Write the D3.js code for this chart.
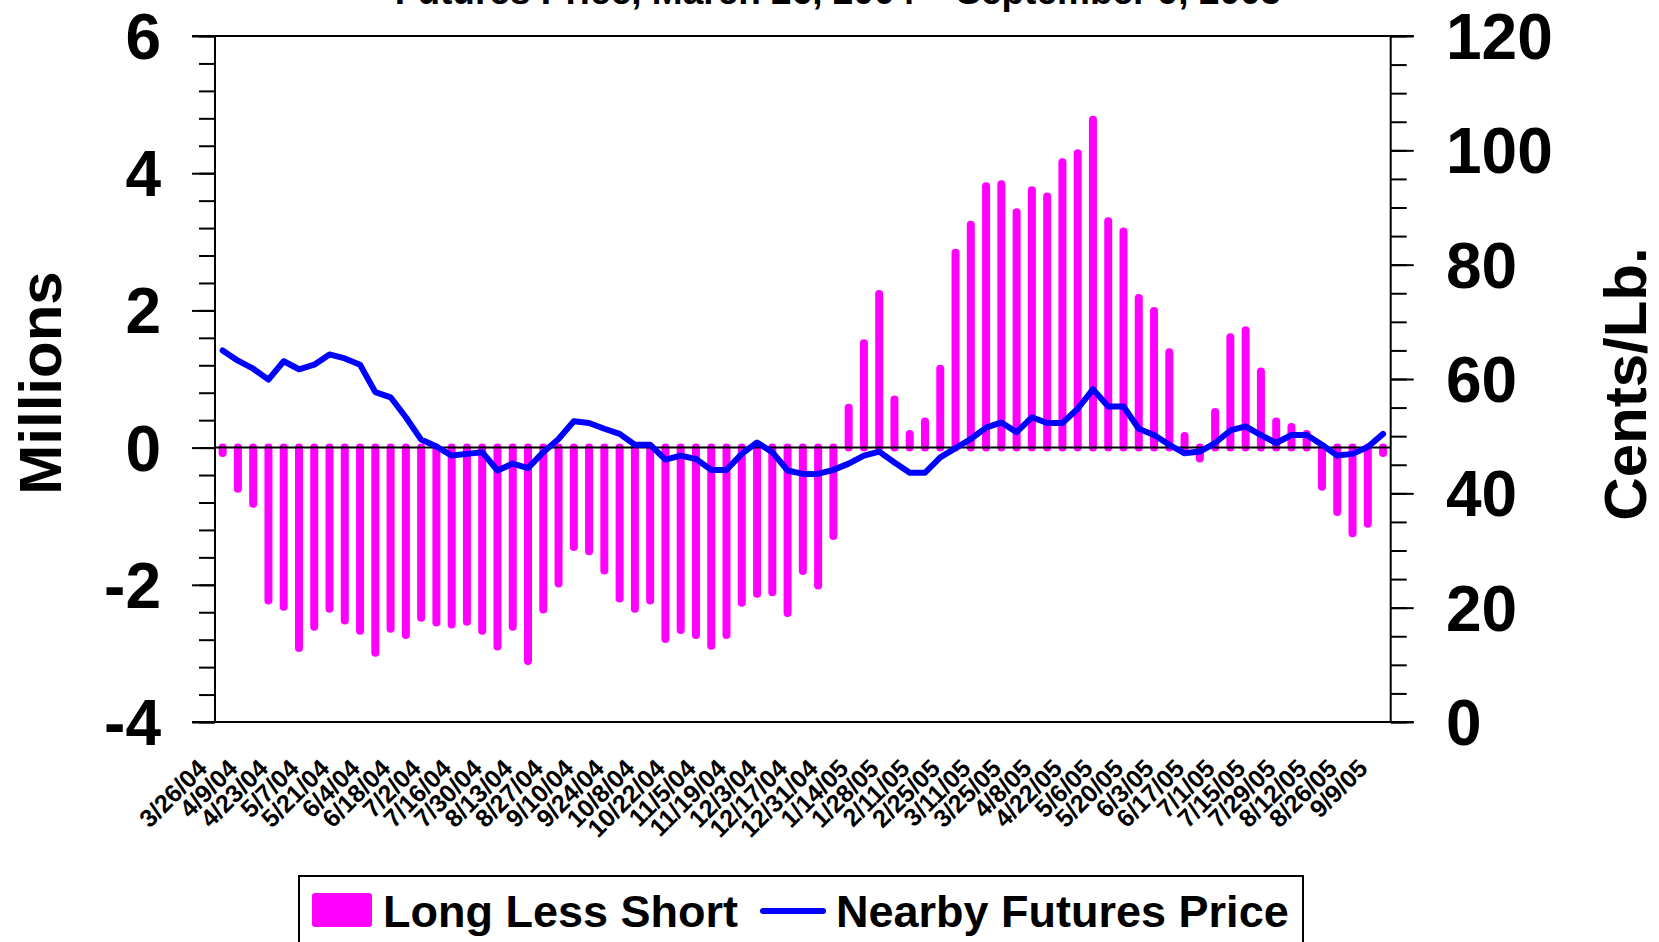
<!DOCTYPE html>
<html>
<head>
<meta charset="utf-8">
<script src="https://cdn.jsdelivr.net/npm/d3@7"></script>
<style>
	body { margin: 0; background: #fff; }
	text { font-family: Arial, "Liberation Sans", sans-serif; font-weight: bold; fill: #000; }
</style>
</head>
<body>
<div id="chartContainer"></div>
<script>

// weekly report dates
var dates = ["3/26/04","4/2/04","4/9/04","4/16/04","4/23/04","4/30/04","5/7/04","5/14/04","5/21/04","5/28/04",
	"6/4/04","6/11/04","6/18/04","6/25/04","7/2/04","7/9/04","7/16/04","7/23/04","7/30/04","8/6/04",
	"8/13/04","8/20/04","8/27/04","9/3/04","9/10/04","9/17/04","9/24/04","10/1/04","10/8/04","10/15/04",
	"10/22/04","10/29/04","11/5/04","11/12/04","11/19/04","11/26/04","12/3/04","12/10/04","12/17/04","12/24/04",
	"12/31/04","1/7/05","1/14/05","1/21/05","1/28/05","2/4/05","2/11/05","2/18/05","2/25/05","3/4/05",
	"3/11/05","3/18/05","3/25/05","4/1/05","4/8/05","4/15/05","4/22/05","4/29/05","5/6/05","5/13/05",
	"5/20/05","5/27/05","6/3/05","6/10/05","6/17/05","6/24/05","7/1/05","7/8/05","7/15/05","7/22/05",
	"7/29/05","8/5/05","8/12/05","8/19/05","8/26/05","9/2/05","9/9/05"]

// long less short, millions
var longLessShort = [-0.08,-0.60,-0.82,-2.23,-2.32,-2.92,-2.61,-2.35,-2.52,-2.67,
	-2.99,-2.64,-2.73,-2.48,-2.55,-2.58,-2.54,-2.67,-2.90,-2.61,
	-3.11,-2.36,-1.98,-1.45,-1.51,-1.79,-2.20,-2.35,-2.23,-2.79,
	-2.66,-2.73,-2.89,-2.73,-2.26,-2.13,-2.11,-2.41,-1.80,-2.01,
	-1.29,0.58,1.52,2.24,0.70,0.20,0.38,1.15,2.84,3.25,
	3.81,3.84,3.43,3.75,3.66,4.16,4.29,4.78,3.30,3.15,
	2.18,1.99,1.39,0.17,-0.16,0.52,1.61,1.71,1.11,0.38,
	0.30,0.20,-0.57,-0.94,-1.25,-1.11,-0.08]

// nearby futures price, cents/lb
var futuresPrice = [65.0,63.2,61.8,59.9,63.1,61.7,62.5,64.3,63.6,62.5,
	57.7,56.8,53.3,49.4,48.2,46.6,46.9,47.2,44.0,45.2,
	44.4,47.2,49.5,52.6,52.3,51.3,50.4,48.5,48.5,45.9,
	46.6,46.0,44.1,44.1,46.9,48.9,47.2,44.0,43.4,43.4,
	44.1,45.2,46.6,47.3,45.4,43.6,43.6,46.3,47.9,49.5,
	51.5,52.4,50.7,53.3,52.3,52.3,54.8,58.2,55.2,55.2,
	51.3,50.2,48.5,47.0,47.3,48.8,51.0,51.7,50.2,48.8,
	50.2,50.2,48.5,46.6,46.9,48.1,50.4]

var leftTicks = [-4,-2,0,2,4,6]
var rightTicks = [0,20,40,60,80,100,120]
var titleText = "Futures Price, March 26, 2004 \u2013 September 9, 2005"
var legendLabels = ["Long Less Short", "Nearby Futures Price"]

var width = 1659
var height = 942
var plotLeft = 215, plotRight = 1390.7, plotTop = 36, plotBottom = 722

var svg = d3.select("#chartContainer").append("svg")
	.attr("width", width)
	.attr("height", height)

var x = d3.scaleBand()
	.domain(dates)
	.range([plotLeft, plotRight])
	.padding(0)

var yLeft = d3.scaleLinear()
	.domain([-4, 6])
	.range([plotBottom, plotTop])

var yRight = d3.scaleLinear()
	.domain([0, 120])
	.range([plotBottom, plotTop])

var cx = d => x(d) + x.bandwidth() / 2

// title (only its last line sits on the page)
svg.append("text")
	.attr("x", 838)
	.attr("y", 4)
	.attr("text-anchor", "middle")
	.style("font-size", "37px")
	.text(titleText)

// bars as round capped strokes
svg.append("g")
	.selectAll("line")
	.data(dates)
	.enter().append("line")
	.attr("x1", d => cx(d))
	.attr("x2", d => cx(d))
	.attr("y1", yLeft(0))
	.attr("y2", (d, i) => yLeft(longLessShort[i]))
	.attr("stroke", "#ff00ff")
	.attr("stroke-width", 8)
	.attr("stroke-linecap", "round")

// left axis, minor then major ticks
svg.append("g")
	.attr("transform", `translate(${plotLeft},0)`)
	.call(d3.axisLeft(yLeft).tickValues(d3.range(-4, 6.01, 0.4)).tickSize(16).tickFormat(""))
	.call(g => g.select(".domain").remove())
	.selectAll("line").attr("stroke", "#000").attr("stroke-width", 2)

svg.append("g")
	.attr("transform", `translate(${plotLeft},0)`)
	.call(d3.axisLeft(yLeft).tickValues(leftTicks).tickSize(23).tickFormat(""))
	.call(g => g.select(".domain").remove())
	.selectAll("line").attr("stroke", "#000").attr("stroke-width", 2)

svg.append("g")
	.selectAll("text")
	.data(leftTicks)
	.enter().append("text")
	.attr("x", 161)
	.attr("y", d => yLeft(d) + 23)
	.attr("text-anchor", "end")
	.style("font-size", "64px")
	.text(d => d)

// right axis
svg.append("g")
	.attr("transform", `translate(${plotRight},0)`)
	.call(d3.axisRight(yRight).tickValues(d3.range(0, 121, 5)).tickSize(16).tickFormat(""))
	.call(g => g.select(".domain").remove())
	.selectAll("line").attr("stroke", "#000").attr("stroke-width", 2)

svg.append("g")
	.attr("transform", `translate(${plotRight},0)`)
	.call(d3.axisRight(yRight).tickValues(rightTicks).tickSize(23).tickFormat(""))
	.call(g => g.select(".domain").remove())
	.selectAll("line").attr("stroke", "#000").attr("stroke-width", 2)

svg.append("g")
	.selectAll("text")
	.data(rightTicks)
	.enter().append("text")
	.attr("x", 1446)
	.attr("y", d => yRight(d) + 23)
	.attr("text-anchor", "start")
	.style("font-size", "64px")
	.text(d => d)

// frame lines
svg.append("line").attr("x1", plotLeft).attr("x2", plotLeft).attr("y1", plotTop).attr("y2", plotBottom)
	.attr("stroke", "#000").attr("stroke-width", 2)
svg.append("line").attr("x1", plotRight).attr("x2", plotRight).attr("y1", plotTop).attr("y2", plotBottom)
	.attr("stroke", "#000").attr("stroke-width", 2)
svg.append("line").attr("x1", plotLeft - 23).attr("x2", plotRight + 23).attr("y1", plotTop).attr("y2", plotTop)
	.attr("stroke", "#000").attr("stroke-width", 2)
svg.append("line").attr("x1", plotLeft - 23).attr("x2", plotRight + 23).attr("y1", plotBottom).attr("y2", plotBottom)
	.attr("stroke", "#000").attr("stroke-width", 2)

// zero line
svg.append("line")
	.attr("x1", plotLeft).attr("x2", plotRight)
	.attr("y1", yLeft(0)).attr("y2", yLeft(0))
	.attr("stroke", "#000").attr("stroke-width", 2)

// price line
var line = d3.line()
	.x(d => cx(d))
	.y((d, i) => yRight(futuresPrice[i]))

svg.append("path")
	.datum(dates)
	.attr("d", line)
	.attr("fill", "none")
	.attr("stroke", "#0000ff")
	.attr("stroke-width", 6)
	.attr("stroke-linejoin", "round")
	.attr("stroke-linecap", "round")

// date labels, every second week
svg.append("g")
	.selectAll("text")
	.data(dates.filter((d, i) => i % 2 == 0))
	.enter().append("text")
	.attr("transform", d => `translate(${cx(d) - 14},770) rotate(-45)`)
	.attr("text-anchor", "end")
	.style("font-size", "25px")
	.text(d => d)

// axis titles
svg.append("text")
	.attr("transform", "translate(61,383) rotate(-90)")
	.attr("text-anchor", "middle")
	.style("font-size", "60px")
	.text("Millions")

svg.append("text")
	.attr("transform", "translate(1646,384) rotate(-90)")
	.attr("text-anchor", "middle")
	.style("font-size", "60px")
	.text("Cents/Lb.")

// legend
var legend = svg.append("g")

legend.append("rect")
	.attr("x", 299).attr("y", 876)
	.attr("width", 1004).attr("height", 90)
	.attr("fill", "#fff")
	.attr("stroke", "#000")
	.attr("stroke-width", 2)

legend.append("rect")
	.attr("x", 312).attr("y", 893)
	.attr("width", 60).attr("height", 34)
	.attr("rx", 3)
	.attr("fill", "#ff00ff")

legend.append("text")
	.attr("x", 383).attr("y", 927)
	.style("font-size", "45px")
	.text(legendLabels[0])

legend.append("line")
	.attr("x1", 763).attr("x2", 823)
	.attr("y1", 911).attr("y2", 911)
	.attr("stroke", "#0000ff")
	.attr("stroke-width", 6)
	.attr("stroke-linecap", "round")

legend.append("text")
	.attr("x", 836).attr("y", 927)
	.style("font-size", "45px")
	.text(legendLabels[1])

</script>
</body>
</html>
